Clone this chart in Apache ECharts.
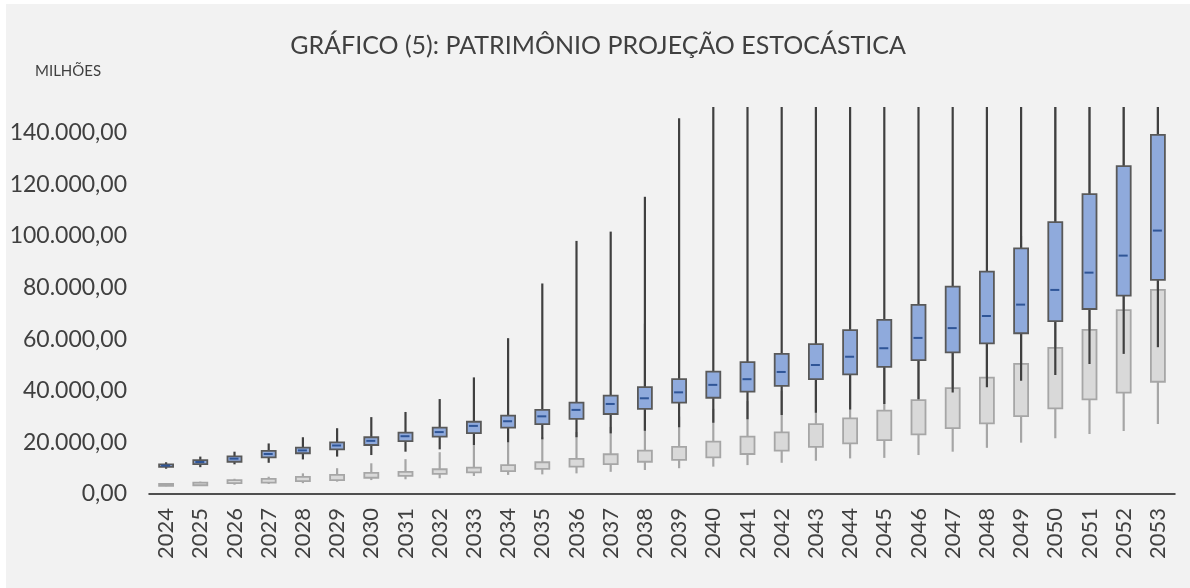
<!DOCTYPE html>
<html>
<head>
<meta charset="utf-8">
<script src="https://cdn.jsdelivr.net/npm/echarts@6/dist/echarts.min.js"></script>
<style>
  html, body { margin: 0; padding: 0; background: #ffffff; }
  #chart { position: absolute; left: 6px; top: 4px; width: 1184px; height: 584px; background: #f2f2f2; }
</style>
</head>
<body>
<div id="chart"></div>
<script>
// anos da projeção
const years = ['2024','2025','2026','2027','2028','2029','2030','2031','2032','2033',
  '2034','2035','2036','2037','2038','2039','2040','2041','2042','2043',
  '2044','2045','2046','2047','2048','2049','2050','2051','2052','2053'];

// série azul (superior): mínimo, Q1, mediana, Q3, máximo
const blueMin = [9800,10400,11500,12100,13400,14500,15100,16400,17300,19000,
  20000,21200,22000,23500,24500,25900,27600,29000,30600,31500,
  32800,34900,36700,39300,41400,43900,46100,50400,54300,56900];
const blueQ1 = [10500,11600,12500,14200,15800,17300,19000,20500,22200,23600,
  25700,27100,29100,31000,33000,35400,37300,39700,41900,44500,
  46400,49300,51900,54900,58400,62300,67000,71700,76900,83000];
const blueMed = [11000,12400,13700,15500,16900,18800,20600,22400,24000,26400,
  28200,30100,32600,34900,37100,39400,42300,44500,47300,50000,
  53200,56500,60500,64300,69000,73400,79100,85800,92400,102100];
const blueQ3 = [11500,13100,14600,16700,18000,20000,22000,23800,25700,28000,
  30400,32600,35400,38100,41400,44500,47400,51100,54300,58100,
  63500,67500,73300,80400,86200,95200,105400,116200,127100,139200];
const blueMax = [12300,14500,16400,19600,22000,25500,29800,31800,36800,45200,
  60400,81600,98100,101700,115200,145600,150000,150000,150000,150000,
  150000,150000,150000,150000,150000,150000,150000,150000,150000,150000];

// série cinza (inferior)
const grayMin = [3000,3100,3600,3900,4200,4800,5400,5700,6100,7000,
  7400,7600,8000,8600,9300,10000,10600,11200,12100,12900,
  13800,14000,15100,16400,17900,19900,21600,23300,24400,27100];
const grayQ1 = [3200,3400,4200,4400,5000,5400,6300,7000,7800,8400,
  8900,9700,10600,11600,12500,13200,14200,15500,16800,18300,
  19600,20900,23100,25500,27400,30200,33200,36700,39300,43500];
const grayMed = [3500,3900,4750,5100,5800,6300,7300,7800,8600,9300,
  10200,11100,12100,13500,14700,15800,17300,18900,20300,22700,
  24500,26600,29800,33000,36000,39500,44000,49000,55000,60000];
const grayQ3 = [3900,4400,5400,5900,6600,7400,8200,8600,9600,10200,
  11200,12300,13600,15400,16800,18300,20300,22200,23900,27100,
  29300,32300,36400,41000,45100,50400,56600,63600,71300,79100];
const grayMax = [4200,4800,5900,6700,8000,10000,11900,13500,16200,19000,
  20000,22000,24000,26000,66000,30000,33000,36000,40000,44000,
  48000,55000,62000,72000,85000,100000,150000,150000,150000,150000];

const yTicks = { min: 0, max: 150000, interval: 20000 };

function rows(mn, q1, md, q3, mx) {
  return years.map((y, i) => [i, mn[i], q1[i], md[i], q3[i], mx[i]]);
}

function fmtBR(v) {
  const s = Math.round(v).toString().replace(/\B(?=(\d{3})+(?!\d))/g, '.');
  return s + ',00';
}

// desenha uma caixa (whisker + caixa + mediana) usando as escalas do eixo
function boxRenderer(st) {
  return function (params, api) {
    const i = api.value(0);
    const pMin = api.coord([i, api.value(1)]);
    const pQ1 = api.coord([i, api.value(2)]);
    const pMed = api.coord([i, api.value(3)]);
    const pQ3 = api.coord([i, api.value(4)]);
    const pMax = api.coord([i, api.value(5)]);
    const x = pMin[0];
    const w = 14;
    const kids = [
      { type: 'line', shape: { x1: x, y1: pMax[1], x2: x, y2: pMin[1] },
        style: { stroke: st.whisker, lineWidth: 2.2 } },
      { type: 'rect', shape: { x: x - w / 2, y: pQ3[1], width: w, height: pQ1[1] - pQ3[1] },
        style: { fill: st.fill, stroke: st.border, lineWidth: 1.8 } }
    ];
    if (st.median) {
      kids.push({ type: 'line', shape: { x1: x - 5, y1: pMed[1], x2: x + 4, y2: pMed[1] },
        style: { stroke: st.median, lineWidth: 2 } });
    }
    return { type: 'group', children: kids };
  };
}

const chart = echarts.init(document.getElementById('chart'));

chart.setOption({
  backgroundColor: '#f2f2f2',
  animation: false,
  title: [
    { text: 'GRÁFICO (5): PATRIMÔNIO PROJEÇÃO ESTOCÁSTICA', left: 'center', top: 24,
      textStyle: { fontFamily: 'Lato', fontSize: 25, fontWeight: 'normal', color: '#404040' } },
    { text: 'MILHÕES', left: 24, top: 55,
      textStyle: { fontFamily: 'Lato', fontSize: 15, fontWeight: 'normal', color: '#404040' } }
  ],
  grid: { left: 143, right: 15, top: 103, bottom: 94 },
  xAxis: {
    type: 'category',
    data: years,
    boundaryGap: true,
    axisLine: { lineStyle: { color: '#1a1a1a', width: 1.5 } },
    axisTick: { show: false },
    axisLabel: { rotate: 90, margin: 14, interval: 0, fontFamily: 'Lato', fontSize: 22, color: '#404040' }
  },
  yAxis: {
    type: 'value',
    min: yTicks.min,
    max: yTicks.max,
    interval: yTicks.interval,
    splitLine: { show: false },
    axisLine: { show: false },
    axisTick: { show: false },
    axisLabel: { margin: 22, showMaxLabel: false, fontFamily: 'Lato', fontSize: 23, color: '#404040',
      formatter: v => (v > 140000 ? '' : fmtBR(v)) }
  },
  series: [
    {
      name: 'cinza', type: 'custom', clip: true,
      renderItem: boxRenderer({ whisker: '#a6a6a6', fill: '#d9d9d9', border: '#a6a6a6', median: null }),
      encode: { x: 0, y: [1, 2, 3, 4, 5] },
      data: rows(grayMin, grayQ1, grayMed, grayQ3, grayMax)
    },
    {
      name: 'azul', type: 'custom', clip: true,
      renderItem: boxRenderer({ whisker: '#404040', fill: '#8faadc', border: '#595959', median: '#2f5597' }),
      encode: { x: 0, y: [1, 2, 3, 4, 5] },
      data: rows(blueMin, blueQ1, blueMed, blueQ3, blueMax)
    }
  ]
});

window.addEventListener('resize', () => chart.resize());
</script>
</body>
</html>
